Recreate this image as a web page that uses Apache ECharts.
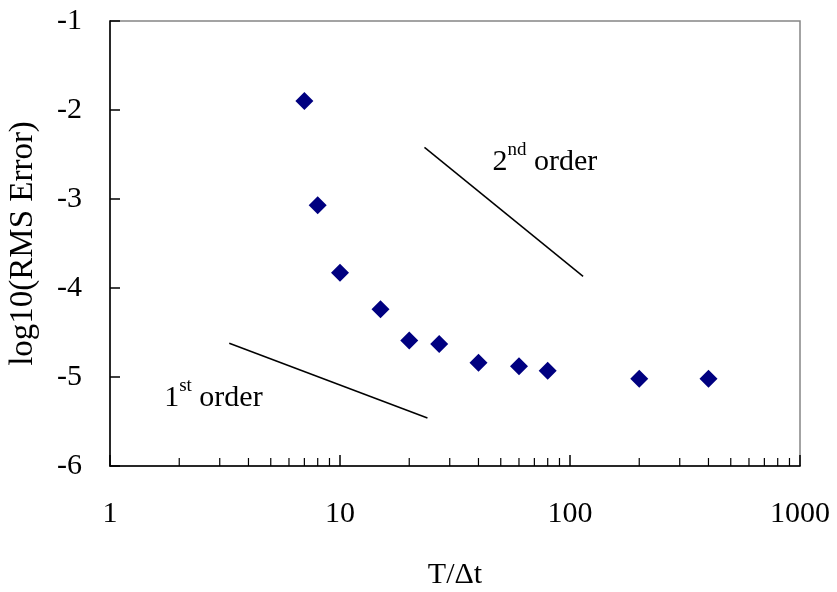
<!DOCTYPE html>
<html>
<head>
<meta charset="utf-8">
<script src="https://cdn.jsdelivr.net/npm/echarts@6/dist/echarts.min.js"></script>
<style>
    html, body { margin: 0; padding: 0; background: #fff; }
    #chart { width: 837px; height: 592px; }
</style>
</head>
<body>
<div id="chart"></div>
<script>
// measured points
var tSteps = [7, 8, 10, 15, 20, 27, 40, 60, 80, 200, 400];
var logErr = [-1.90, -3.07, -3.83, -4.24, -4.59, -4.63, -4.84, -4.88, -4.93, -5.02, -5.02];

// slope guide lines
var firstOrderX = [3.3, 24];
var firstOrderY = [-4.62, -5.46];
var secondOrderX = [23.3, 114];
var secondOrderY = [-2.42, -3.87];

// where the guide labels sit (data coords)
var firstLabelPos = [1.72, -5.2];
var secondLabelPos = [46, -2.55];

var minorTickValues = [2, 3, 4, 5, 6, 7, 8, 9, 20, 30, 40, 50, 60, 70, 80, 90,
                       200, 300, 400, 500, 600, 700, 800, 900];
var yMin = -6, yMax = -1;

var FONT = '"Liberation Serif", "DejaVu Serif", serif';

function pairs(xs, ys) {
    return xs.map(function (x, i) { return [x, ys[i]]; });
}

var richText = {
    b: { fontFamily: FONT, fontSize: 30, color: '#000', verticalAlign: 'bottom', lineHeight: 36 },
    s: { fontFamily: FONT, fontSize: 19, color: '#000', verticalAlign: 'top', lineHeight: 36 }
};

var option = {
    animation: false,
    backgroundColor: '#fff',
    grid: {
        left: 110,
        right: 37,
        top: 21,
        bottom: 126,
        outerBoundsMode: 'none',
        containLabel: false,
        show: true,
        borderColor: '#858585',
        borderWidth: 1.5
    },
    xAxis: {
        type: 'log',
        logBase: 10,
        min: 1,
        max: 1000,
        name: 'T/\u0394t',
        nameLocation: 'middle',
        nameGap: 94,
        nameTextStyle: { fontFamily: FONT, fontSize: 30, color: '#000' },
        axisLine: { lineStyle: { color: '#000', width: 1.5 } },
        axisTick: { inside: true, length: 11, lineStyle: { color: '#000', width: 1.5 } },
        axisLabel: {
            fontFamily: FONT, fontSize: 30, color: '#000', margin: 33,
            formatter: function (v) { return String(v); }
        },
        splitLine: { show: false }
    },
    yAxis: {
        type: 'value',
        min: yMin,
        max: yMax,
        interval: 1,
        name: 'log10(RMS Error)',
        nameLocation: 'middle',
        nameGap: 70,
        nameTextStyle: { fontFamily: FONT, fontSize: 33, color: '#000' },
        axisLine: { lineStyle: { color: '#000', width: 1.5 } },
        axisTick: { inside: true, length: 10, lineStyle: { color: '#000', width: 1.5 } },
        axisLabel: { fontFamily: FONT, fontSize: 30, color: '#000', margin: 28 },
        splitLine: { show: false }
    },
    series: [
        {
            // minor log ticks along the bottom axis
            type: 'custom',
            silent: true,
            data: minorTickValues.map(function (v) { return [v, yMin]; }),
            renderItem: function (params, api) {
                var p = api.coord([api.value(0), api.value(1)]);
                return {
                    type: 'line',
                    shape: { x1: p[0], y1: p[1], x2: p[0], y2: p[1] - 8 },
                    style: { stroke: '#000', lineWidth: 1.2 }
                };
            },
            z: 5
        },
        {
            type: 'line',
            data: pairs(firstOrderX, firstOrderY),
            symbol: 'none',
            lineStyle: { color: '#000', width: 1.5 },
            silent: true
        },
        {
            type: 'line',
            data: pairs(secondOrderX, secondOrderY),
            symbol: 'none',
            lineStyle: { color: '#000', width: 1.5 },
            silent: true
        },
        {
            type: 'scatter',
            data: [firstLabelPos],
            symbolSize: 0,
            itemStyle: { opacity: 1 },
            label: {
                show: true,
                position: 'right',
                distance: 0,
                formatter: '{b|1}{s|st}{b| order}',
                rich: richText
            },
            silent: true
        },
        {
            type: 'scatter',
            data: [secondLabelPos],
            symbolSize: 0,
            itemStyle: { opacity: 1 },
            label: {
                show: true,
                position: 'right',
                distance: 0,
                formatter: '{b|2}{s|nd}{b| order}',
                rich: richText
            },
            silent: true
        },
        {
            type: 'scatter',
            data: pairs(tSteps, logErr),
            symbol: 'diamond',
            symbolSize: 18,
            itemStyle: { color: '#000080', opacity: 1 },
            z: 10
        }
    ]
};

var chart = echarts.init(document.getElementById('chart'));
chart.setOption(option);
</script>
</body>
</html>
